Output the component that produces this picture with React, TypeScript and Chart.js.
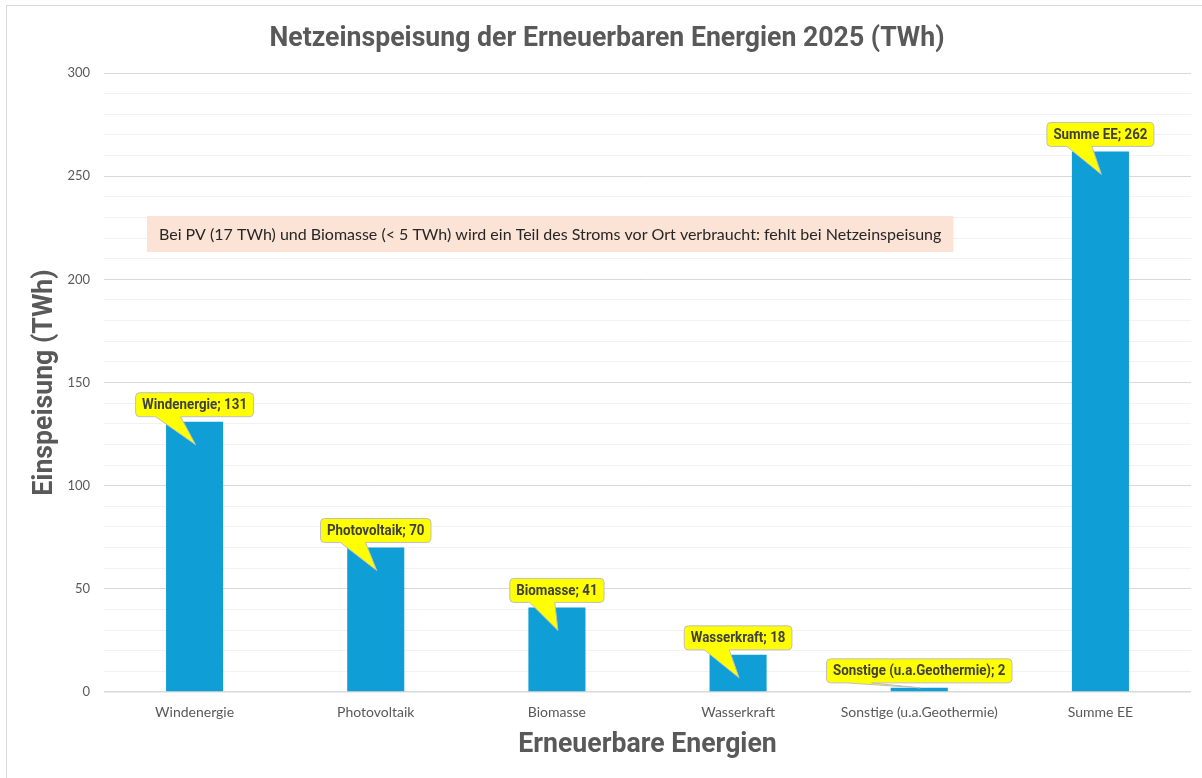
import React, { useEffect, useRef } from "react";
import { Chart, registerables } from "chart.js";

Chart.register(...registerables);

const categories = [
  "Windenergie",
  "Photovoltaik",
  "Biomasse",
  "Wasserkraft",
  "Sonstige (u.a.Geothermie)",
  "Summe EE",
];
const values = [131, 70, 41, 18, 2, 262];
const yMax = 300;
const yStep = 10;
const yLabelStep = 50;

const chartTitle = "Netzeinspeisung der Erneuerbaren Energien 2025 (TWh)";
const yTitle = "Einspeisung (TWh)";
const xTitle = "Erneuerbare Energien";
const noteText =
  "Bei PV (17 TWh) und Biomasse (< 5 TWh) wird ein Teil des Stroms vor Ort verbraucht: fehlt bei Netzeinspeisung";

const BOLD = 'Roboto, "Liberation Sans", sans-serif';
const REG = 'Lato, "Open Sans", sans-serif';
const GREY = "#595959";
const TITLE_WIDTH = 675; // target rendered width of the condensed title

// draw text horizontally condensed by factor s (emulates a narrow font)
function narrowText(ctx: any, text: string, x: number, y: number, s: number) {
  ctx.save();
  ctx.translate(x, y);
  ctx.scale(s, 1);
  ctx.fillText(text, 0, 0);
  ctx.restore();
}

const decorPlugin = {
  id: "decor",
  beforeDraw(chart: any) {
    const ctx = chart.ctx;
    ctx.save();
    ctx.fillStyle = "#ffffff";
    ctx.fillRect(0, 0, chart.width, chart.height);
    ctx.strokeStyle = "#d9d9d9";
    ctx.lineWidth = 1;
    ctx.strokeRect(6.5, 5.5, chart.width + 20, chart.height + 20);
    ctx.restore();
  },
  afterDraw(chart: any) {
    const ctx = chart.ctx;
    const ca = chart.chartArea;
    ctx.save();
    ctx.fillStyle = GREY;
    ctx.textAlign = "center";
    ctx.textBaseline = "middle";
    ctx.font = "bold 28px " + BOLD;
    const s = TITLE_WIDTH / ctx.measureText(chartTitle).width;
    narrowText(ctx, chartTitle, 607, 39, s);
    narrowText(ctx, xTitle, (ca.left + ca.right) / 2, 745, s);
    ctx.save();
    ctx.translate(45, (ca.top + ca.bottom) / 2);
    ctx.rotate(-Math.PI / 2);
    narrowText(ctx, yTitle, 0, 0, s);
    ctx.restore();

    // note box
    ctx.font = "16px " + REG;
    const tw = ctx.measureText(noteText).width;
    const bx = ca.left + 43;
    const by = ca.top + 143;
    const bh = 36;
    ctx.fillStyle = "#fbe3d6";
    ctx.fillRect(bx, by, tw + 24, bh);
    ctx.fillStyle = "#262626";
    ctx.textAlign = "left";
    ctx.fillText(noteText, bx + 12, by + bh / 2 + 1);

    // callouts
    const meta = chart.getDatasetMeta(0);
    ctx.font = "bold 14px " + BOLD;
    meta.data.forEach((bar: any, i: number) => {
      const label = `${categories[i]}; ${values[i]}`;
      const w = ctx.measureText(label).width * s + 13;
      const h = 24;
      const left = bar.x - w / 2;
      const bottom = bar.y - 5;
      const top = bottom - h;
      const tipX = bar.x + 1;
      const tipY = bar.base - bar.y > 30 ? bar.y + 23 : bar.y;
      const r = 4;
      const p1 = left + 20;
      const p2 = left + 45;
      ctx.beginPath();
      ctx.moveTo(left + r, top);
      ctx.lineTo(left + w - r, top);
      ctx.quadraticCurveTo(left + w, top, left + w, top + r);
      ctx.lineTo(left + w, bottom - r);
      ctx.quadraticCurveTo(left + w, bottom, left + w - r, bottom);
      ctx.lineTo(p2, bottom);
      ctx.lineTo(tipX, tipY);
      ctx.lineTo(p1, bottom);
      ctx.lineTo(left + r, bottom);
      ctx.quadraticCurveTo(left, bottom, left, bottom - r);
      ctx.lineTo(left, top + r);
      ctx.quadraticCurveTo(left, top, left + r, top);
      ctx.closePath();
      ctx.fillStyle = "#ffff00";
      ctx.fill();
      ctx.strokeStyle = "#bfbfbf";
      ctx.lineWidth = 1;
      ctx.stroke();
      ctx.fillStyle = "#404040";
      ctx.textAlign = "center";
      ctx.textBaseline = "middle";
      narrowText(ctx, label, left + w / 2, top + h / 2 + 1, s);
    });
    ctx.restore();
  },
};

export default function App() {
  const ref = useRef<HTMLCanvasElement>(null);
  useEffect(() => {
    document.body.style.margin = "0";
    const chart = new Chart(ref.current as HTMLCanvasElement, {
      type: "bar",
      data: {
        labels: categories,
        datasets: [
          {
            data: values,
            backgroundColor: "#0f9ed5",
            borderWidth: 0,
            barPercentage: 0.315,
            categoryPercentage: 1,
          },
        ],
      },
      options: {
        animation: false,
        responsive: false,
        events: [],
        layout: { padding: { top: 73, right: 11, left: 0, bottom: 0 } },
        plugins: {
          legend: { display: false },
          title: { display: false },
          tooltip: { enabled: false },
        },
        scales: {
          x: {
            grid: { display: false, drawTicks: false },
            border: { display: false },
            ticks: {
              color: GREY,
              font: { family: REG, size: 14 },
              padding: 12,
              maxRotation: 0,
              autoSkip: false,
            },
            afterFit(scale: any) {
              scale.height = 86;
            },
          },
          y: {
            min: 0,
            max: yMax,
            border: { display: false },
            grid: {
              drawTicks: false,
              color: (c: any) =>
                c.tick && c.tick.value % yLabelStep === 0 ? "#d9d9d9" : "#f2f2f2",
              lineWidth: (c: any) => (c.tick && c.tick.value === 0 ? 1.5 : 1),
            },
            ticks: {
              stepSize: yStep,
              autoSkip: false,
              color: GREY,
              font: { family: REG, size: 13 },
              padding: 14,
              callback: (v: any) => (Number(v) % yLabelStep === 0 ? String(v) : ""),
            },
            afterFit(scale: any) {
              scale.width = 104;
            },
          },
        },
      },
      plugins: [decorPlugin],
    });
    return () => chart.destroy();
  }, []);
  return (
    <div style={{ position: "absolute", left: 0, top: 0, width: 1202, height: 778 }}>
      <canvas ref={ref} width={1202} height={778} />
    </div>
  );
}
